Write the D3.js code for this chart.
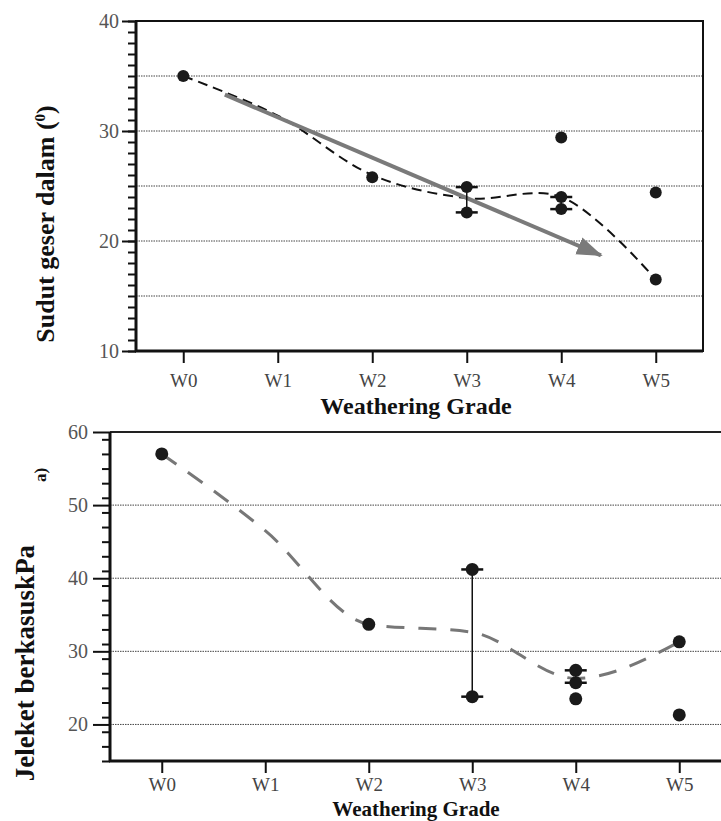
<!DOCTYPE html>
<html lang="en">
<head>
<meta charset="UTF-8">
<title>Weathering Grade</title>
<script src="https://cdn.jsdelivr.net/npm/d3@7"></script>
<style>
body { margin: 0; background: #fff; }
svg { display: block; }
text { font-family: 'Liberation Serif', 'Times New Roman', serif; }
</style>
</head>
<body>
<script>
// categories on the x axis
const grades = ["W0", "W1", "W2", "W3", "W4", "W5"];

// top panel: Sudut geser dalam (degrees)
const frictionPoints = [[0, 35], [2, 25.8], [3, 24.9], [3, 22.6], [4, 29.4], [4, 24.0], [4, 22.9], [5, 24.4], [5, 16.5]];
const frictionRanges = [[3, 22.6, 24.9], [4, 22.9, 24.0]]; // grade, low, high
const frictionTrend = [35, 31.4, 26.0, 23.9, 24.0, 16.5];
const frictionArrow = [[0.44, 33.3], [4.42, 18.7]];
const frictionTicks = [10, 20, 30, 40];
const frictionGrid = [15, 20, 25, 30, 35];

// bottom panel: cohesion (kPa)
const cohesionPoints = [[0, 57], [2, 33.7], [3, 41.2], [3, 23.8], [4, 27.4], [4, 25.7], [4, 23.5], [5, 31.3], [5, 21.3]];
const cohesionRanges = [[3, 23.8, 41.2], [4, 25.7, 27.4]];
const cohesionTrend = [57, 46.5, 33.7, 32.6, 26.3, 31.3];
const cohesionTicks = [20, 30, 40, 50, 60];
const cohesionGrid = [20, 30, 40, 50];

const W = 721, H = 821;
const svg = d3.select("body").append("svg").attr("width", W).attr("height", H);

svg.append("defs").append("marker")
    .attr("id", "arrowhead")
    .attr("markerUnits", "userSpaceOnUse")
    .attr("viewBox", "0 -10 26 20")
    .attr("refX", 24).attr("refY", 0)
    .attr("markerWidth", 26).attr("markerHeight", 20)
    .attr("orient", "auto")
  .append("path")
    .attr("d", "M0,-9L26,0L0,9Z")
    .attr("fill", "#7a7a7a");

function panel(cfg) {
    const x = d3.scaleLinear().domain([-0.5, 5.5]).range([cfg.left, cfg.right]);
    const y = d3.scaleLinear().domain(cfg.yDomain).range([cfg.bottom, cfg.top]);
    const g = svg.append("g");

    // dotted grid
    g.append("g").selectAll("line").data(cfg.grid).join("line")
        .attr("x1", cfg.left).attr("x2", cfg.right)
        .attr("y1", d => y(d)).attr("y2", d => y(d))
        .attr("stroke", "#444").attr("stroke-width", 1)
        .attr("stroke-dasharray", "1.5,1");

    // frame
    if (cfg.box) {
        g.append("rect")
            .attr("x", cfg.left).attr("y", cfg.top)
            .attr("width", cfg.right - cfg.left).attr("height", cfg.bottom - cfg.top)
            .attr("fill", "none").attr("stroke", "#111").attr("stroke-width", 2);
    } else {
        g.append("line").attr("x1", cfg.left).attr("x2", cfg.right)
            .attr("y1", cfg.top).attr("y2", cfg.top)
            .attr("stroke", "#222").attr("stroke-width", 2);
    }

    // y axis with minor ticks
    const minor = d3.range(cfg.yDomain[0], cfg.yDomain[1] + 0.001, cfg.minorStep);
    g.append("g")
        .attr("transform", `translate(${cfg.left},0)`)
        .call(d3.axisLeft(y).tickValues(minor).tickSize(8).tickFormat(""))
        .call(a => a.select(".domain").remove())
        .call(a => a.selectAll("line").attr("stroke", "#111").attr("stroke-width", 2));
    const yAx = g.append("g")
        .attr("transform", `translate(${cfg.left},0)`)
        .call(d3.axisLeft(y).tickValues(cfg.ticks).tickSize(cfg.majorLen).tickPadding(cfg.yPad).tickFormat(d3.format("d")));
    yAx.select(".domain").remove();
    yAx.selectAll("line").attr("stroke", "#111").attr("stroke-width", 2);
    yAx.selectAll("text").attr("font-size", 20).attr("fill", "#555")
        .style("font-family", "'Liberation Serif', serif");

    g.append("line").attr("x1", cfg.left).attr("x2", cfg.left)
        .attr("y1", cfg.top).attr("y2", cfg.bottom)
        .attr("stroke", "#111").attr("stroke-width", 3);

    // x axis
    const xAx = g.append("g")
        .attr("transform", `translate(0,${cfg.bottom})`)
        .call(d3.axisBottom(x).tickValues(d3.range(grades.length)).tickSize(12).tickPadding(cfg.xPad)
            .tickFormat(i => grades[i]));
    xAx.select(".domain").remove();
    xAx.selectAll("line").attr("stroke", "#111").attr("stroke-width", 2);
    xAx.selectAll("text").attr("font-size", 19).attr("fill", "#444")
        .style("font-family", "'Liberation Serif', serif");
    g.append("line").attr("x1", cfg.left - 1).attr("x2", cfg.right)
        .attr("y1", cfg.bottom).attr("y2", cfg.bottom)
        .attr("stroke", "#111").attr("stroke-width", 3);

    g.append("text")
        .attr("x", cfg.titleX).attr("y", cfg.bottom + cfg.titleDy)
        .attr("text-anchor", "middle").attr("font-weight", "bold").attr("font-size", cfg.titleSize)
        .attr("fill", "#111")
        .text("Weathering Grade");

    // trend curve
    g.append("path")
        .datum(cfg.trend)
        .attr("d", d3.line().x((d, i) => x(i)).y(d => y(d)).curve(cfg.curve))
        .attr("fill", "none")
        .attr("stroke", cfg.trendColor).attr("stroke-width", cfg.trendWidth)
        .attr("stroke-dasharray", cfg.dash);

    if (cfg.arrow) {
        g.append("line")
            .attr("x1", x(cfg.arrow[0][0])).attr("y1", y(cfg.arrow[0][1]))
            .attr("x2", x(cfg.arrow[1][0])).attr("y2", y(cfg.arrow[1][1]))
            .attr("stroke", "#7a7a7a").attr("stroke-width", 4)
            .attr("marker-end", "url(#arrowhead)");
    }

    // range bars with caps
    const rb = g.append("g").attr("stroke", "#111").attr("stroke-width", 1.5);
    rb.selectAll("line.v").data(cfg.ranges).join("line").attr("class", "v")
        .attr("x1", d => x(d[0])).attr("x2", d => x(d[0]))
        .attr("y1", d => y(d[1])).attr("y2", d => y(d[2]));
    const caps = cfg.ranges.flatMap(d => [[d[0], d[1]], [d[0], d[2]]]);
    rb.selectAll("line.c").data(caps).join("line").attr("class", "c")
        .attr("x1", d => x(d[0]) - 11).attr("x2", d => x(d[0]) + 11)
        .attr("y1", d => y(d[1])).attr("y2", d => y(d[1]))
        .attr("stroke-width", 2.5);

    // points
    g.append("g").selectAll("circle").data(cfg.points).join("circle")
        .attr("cx", d => x(d[0])).attr("cy", d => y(d[1]))
        .attr("r", cfg.r).attr("fill", "#1a1a1a");
}

panel({
    left: 136, right: 703, top: 21, bottom: 351, box: true,
    yDomain: [10, 40], ticks: frictionTicks, grid: frictionGrid, minorStep: 1, majorLen: 14, yPad: 3,
    points: frictionPoints, ranges: frictionRanges, trend: frictionTrend,
    curve: d3.curveCatmullRom.alpha(0.5), trendColor: "#111", trendWidth: 2, dash: "10,6",
    arrow: frictionArrow, r: 6, xPad: 11, titleX: 416, titleDy: 63, titleSize: 24
});

panel({
    left: 110, right: 731, top: 432, bottom: 761, box: false,
    yDomain: [15, 60], ticks: cohesionTicks, grid: cohesionGrid, minorStep: 2, majorLen: 17, yPad: 5,
    points: cohesionPoints, ranges: cohesionRanges, trend: cohesionTrend,
    curve: d3.curveMonotoneX, trendColor: "#777", trendWidth: 3, dash: "18,14",
    arrow: null, r: 6.5, xPad: 5, titleX: 416, titleDy: 55, titleSize: 21
});

// y axis titles
svg.append("text")
    .attr("transform", "translate(54,224) rotate(-90)")
    .attr("text-anchor", "middle").attr("font-weight", "bold").attr("font-size", 26)
    .attr("fill", "#111")
    .html('Sudut geser dalam (<tspan dy="-9" font-size="15">0</tspan><tspan dy="9">)</tspan>');

svg.append("text")
    .attr("transform", "translate(34,663) rotate(-90)")
    .attr("text-anchor", "middle").attr("font-weight", "bold").attr("font-size", 27)
    .attr("fill", "#111")
    .text("Jeleket berkasuskPa");

svg.append("text")
    .attr("transform", "translate(46,475) rotate(-90)")
    .attr("text-anchor", "middle").attr("font-weight", "bold").attr("font-size", 17)
    .attr("fill", "#111")
    .text("a)");
</script>
</body>
</html>
